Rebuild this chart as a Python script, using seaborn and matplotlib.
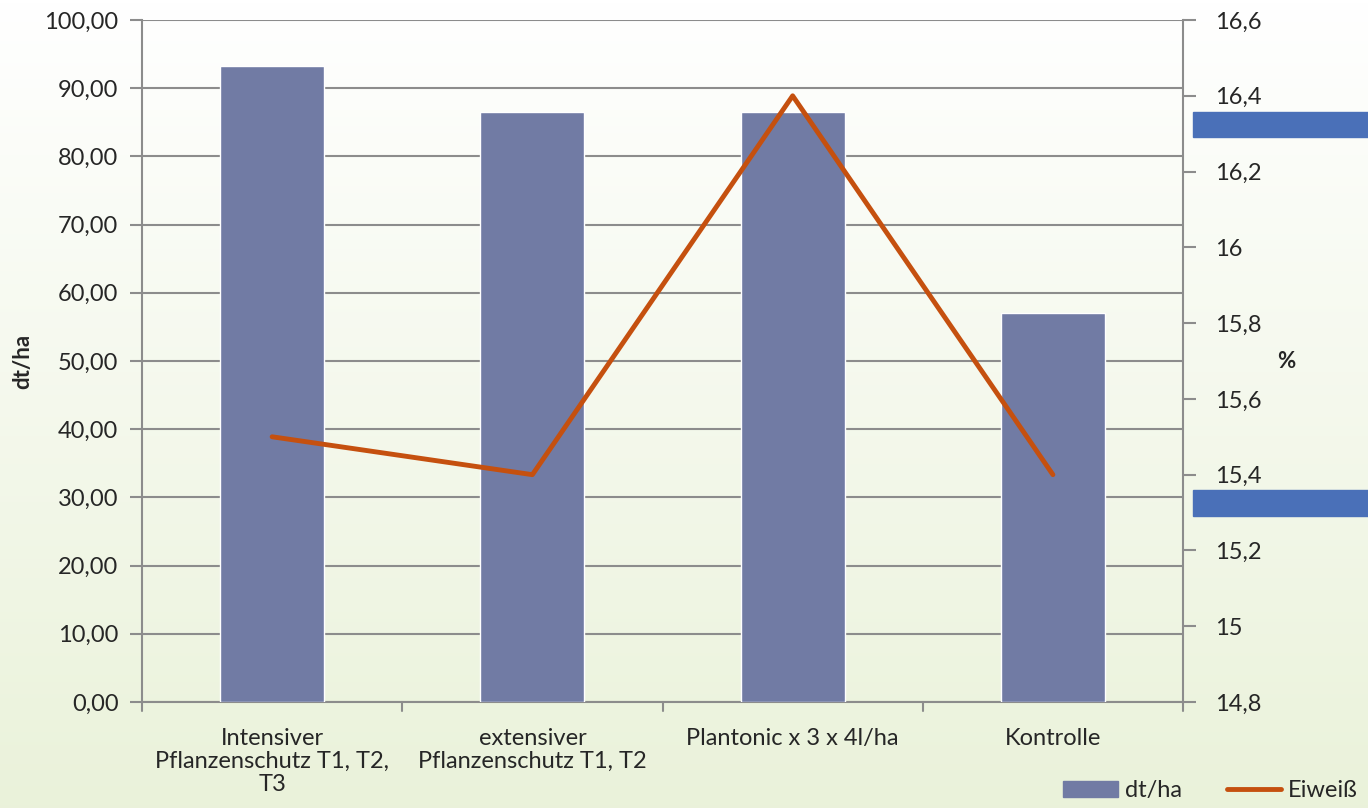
import numpy as np
import pandas as pd
import seaborn as sns
import matplotlib.pyplot as plt
from matplotlib.patches import Rectangle, Patch
from matplotlib.lines import Line2D
from matplotlib.ticker import FuncFormatter, MultipleLocator

categories = ["Intensiver\nPflanzenschutz T1, T2,\nT3",
              "extensiver\nPflanzenschutz T1, T2",
              "Plantonic x 3 x 4l/ha",
              "Kontrolle"]
ertrag = [93.2, 86.5, 86.5, 57.0]      # dt/ha
eiweiss = [15.5, 15.4, 16.4, 15.4]     # %

df = pd.DataFrame({"Variante": categories, "dt/ha": ertrag, "Eiweiß": eiweiss})

bar_col = "#717ba4"
line_col = "#c5500f"
grid_col = "#8c8c8c"

sns.set_style("white")
plt.rcParams['font.family'] = ['Lato', 'DejaVu Sans']

fig = plt.figure(figsize=(13.68, 8.08), dpi=100)

# background gradient, white on top to pale green at the bottom
bg = fig.add_axes([0, 0, 1, 1], zorder=-10)
grad = np.linspace(0, 1, 256).reshape(-1, 1)
top = np.array([1.0, 1.0, 1.0])
bottom = np.array([0.918, 0.949, 0.855])
img = top + (bottom - top) * grad[..., None]
bg.imshow(img, aspect="auto", extent=[0, 1, 0, 1], origin="upper")
bg.axis("off")

ax = fig.add_axes([0.1038, 0.1312, 0.7610, 0.8440])
ax.patch.set_alpha(0)
sns.barplot(data=df, x="Variante", y="dt/ha", color=bar_col, width=0.4,
            saturation=1, ax=ax, zorder=3)
ax.set_ylim(0, 100)
ax.set_xlim(-0.5, 3.5)
ax.yaxis.set_major_locator(MultipleLocator(10))
ax.yaxis.set_major_formatter(FuncFormatter(lambda v, p: f"{v:.2f}".replace(".", ",")))
ax.grid(axis="y", color=grid_col, lw=1.5, zorder=0)
ax.set_axisbelow(True)
ax.set_xlabel("")
ax.set_ylabel("dt/ha", fontsize=16, fontweight="bold", labelpad=8)
for s in ["top", "right"]:
    ax.spines[s].set_visible(False)
for s in ["left", "bottom"]:
    ax.spines[s].set_color(grid_col)
    ax.spines[s].set_linewidth(1.5)
ax.tick_params(axis="y", length=9, width=1.5, color=grid_col, labelsize=17, pad=8)
ax.set_xticks(np.arange(len(categories)))
ax.set_xticklabels(categories, fontsize=17, linespacing=1.1)
ax.tick_params(axis="x", length=0, pad=19)
for b in np.arange(-0.5, 3.6, 1.0):
    ax.plot([b, b], [0, -1.3], color=grid_col, lw=1.5, clip_on=False)

ax2 = ax.twinx()
sns.lineplot(x=np.arange(len(categories)), y=df["Eiweiß"], color=line_col,
             lw=3.5, ax=ax2)
ax2.set_ylim(14.8, 16.6)
ax2.yaxis.set_major_locator(MultipleLocator(0.2))
ax2.yaxis.set_major_formatter(FuncFormatter(lambda v, p: f"{v:g}".replace(".", ",")))
ax2.set_ylabel("%", fontsize=16, fontweight="bold", rotation=0, labelpad=18, va="center")
for s in ["top", "left", "bottom"]:
    ax2.spines[s].set_visible(False)
ax2.spines["right"].set_color(grid_col)
ax2.spines["right"].set_linewidth(1.5)
ax2.tick_params(axis="y", length=9, width=1.5, color=grid_col, labelsize=17, pad=14)

# the two blue boxes on the right margin
for y0 in [0.830, 0.362]:
    fig.patches.append(Rectangle((0.872, y0), 0.128, 0.032, transform=fig.transFigure,
                                 color="#4a70b8", zorder=20))

handles = [Patch(color=bar_col), Line2D([0], [0], color=line_col, lw=3.5)]
fig.legend(handles, ["dt/ha", "Eiweiß"], loc="lower right", ncol=2, frameon=False,
           fontsize=17, bbox_to_anchor=(1.008, -0.018), handlelength=2.3,
           handletextpad=0.3, columnspacing=1.9)

fig.savefig("out.png", dpi=100)
